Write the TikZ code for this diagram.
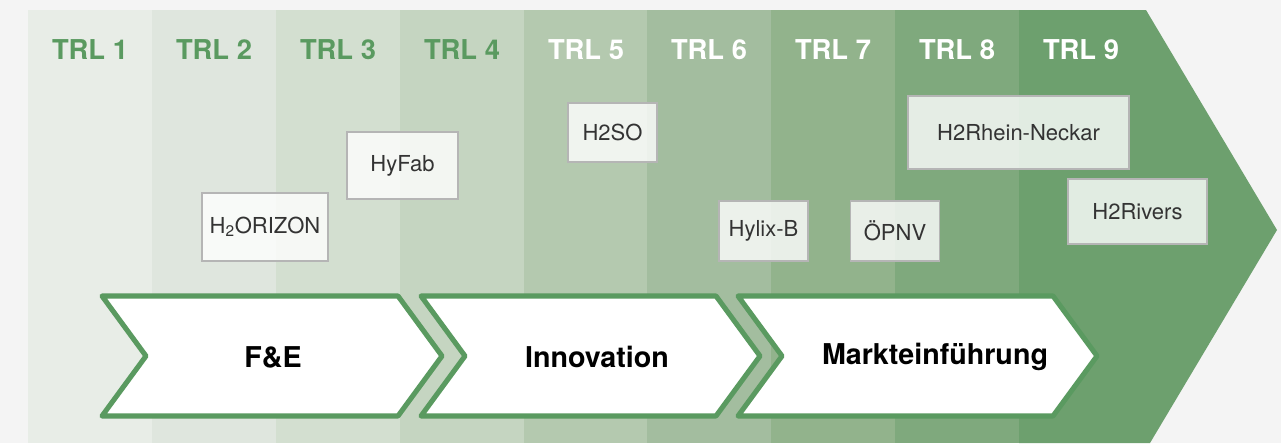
\documentclass[tikz,border=0pt]{standalone}
\usepackage{fontspec}
\setmainfont{TeX Gyre Heros}
\usepackage{xcolor}

\definecolor{bggray}{HTML}{F4F4F4}
\definecolor{col1}{HTML}{E8EDE7}
\definecolor{col2}{HTML}{DFE6DE}
\definecolor{col3}{HTML}{D3DFD0}
\definecolor{col4}{HTML}{C5D5C1}
\definecolor{col5}{HTML}{B4C9AF}
\definecolor{col6}{HTML}{A3BD9F}
\definecolor{col7}{HTML}{92B38C}
\definecolor{col8}{HTML}{7FA97D}
\definecolor{col9}{HTML}{6DA06E}
\definecolor{trlgreen}{HTML}{5A9A60}
\definecolor{boxline}{HTML}{B5B5B5}
\definecolor{boxtext}{HTML}{333333}

\begin{document}
\begin{tikzpicture}[x=0.75pt,y=0.75pt,yscale=-1,
    trl/.style={font=\fontsize{20.5}{24}\selectfont\bfseries, inner sep=0pt},
    project/.style={draw=boxline, line width=1pt, fill=white, fill opacity=0.8, text opacity=1, text=boxtext, font=\fontsize{16.5}{20}\selectfont, inner sep=0pt, outer sep=0pt},
    phase/.style={draw=trlgreen, line width=3.8pt, line join=round, fill=white},
    phaselabel/.style={font=\fontsize{21.5}{26}\selectfont\bfseries, text=black, inner sep=0pt}]

    \useasboundingbox (0,0) rectangle (1281,443);
    \fill [bggray] (0,0) rectangle (1281,443);
    \fill [col1] (28,10) rectangle (152,443);
    \fill [col2] (152,10) rectangle (276,443);
    \fill [col3] (276,10) rectangle (400,443);
    \fill [col4] (400,10) rectangle (524,443);
    \fill [col5] (524,10) rectangle (647,443);
    \fill [col6] (647,10) rectangle (771,443);
    \fill [col7] (771,10) rectangle (895,443);
    \fill [col8] (895,10) rectangle (1019,443);
    \fill [col9] (1019,10) -- (1146,10) -- (1277,230) -- (1150,443) -- (1019,443) -- cycle;

    \draw (90,50)   node [trl, text=trlgreen] (trl1) {TRL 1};
    \draw (214,50)  node [trl, text=trlgreen] (trl2) {TRL 2};
    \draw (338,50)  node [trl, text=trlgreen] (trl3) {TRL 3};
    \draw (462,50)  node [trl, text=trlgreen] (trl4) {TRL 4};
    \draw (586,50)  node [trl, text=white] (trl5) {TRL 5};
    \draw (709,50)  node [trl, text=white] (trl6) {TRL 6};
    \draw (833,50)  node [trl, text=white] (trl7) {TRL 7};
    \draw (957,50)  node [trl, text=white] (trl8) {TRL 8};
    \draw (1081,50) node [trl, text=white] (trl9) {TRL 9};

    \draw (265,227)     node [project, minimum width=94.5pt, minimum height=51pt] (horizon) {H\textsubscript{2}ORIZON};
    \draw (402.5,165.5) node [project, minimum width=83.25pt, minimum height=50.25pt] (hyfab) {HyFab};
    \draw (612.5,132.5) node [project, minimum width=66.75pt, minimum height=44.25pt] (htwoso) {H2SO};
    \draw (763.5,231)   node [project, minimum width=66.75pt, minimum height=45pt] (hylix) {Hylix-B};
    \draw (895,231)     node [project, minimum width=66.75pt, minimum height=45pt] (oepnv) {ÖPNV};
    \draw (1018.5,132.5) node [project, minimum width=165.75pt, minimum height=54.75pt] (rheinneckar) {H2Rhein-Neckar};
    \draw (1137.5,211.5) node [project, minimum width=104.25pt, minimum height=48.75pt] (rivers) {H2Rivers};

    \draw [phase] (102,296) -- (398,296) -- (442,356) -- (398,416) -- (102,416) -- (146,356) -- cycle;
    \draw [phase] (421,296) -- (716,296) -- (760,356) -- (716,416) -- (421,416) -- (465,356) -- cycle;
    \draw [phase] (738,296) -- (1053,296) -- (1097,356) -- (1053,416) -- (738,416) -- (782,356) -- cycle;
    \draw (273,357) node [phaselabel] (fue) {F\&E};
    \draw (597,357) node [phaselabel] (innovation) {Innovation};
    \draw (935,357) node [phaselabel] (markt) {Markteinführung};

\end{tikzpicture}
\end{document}
